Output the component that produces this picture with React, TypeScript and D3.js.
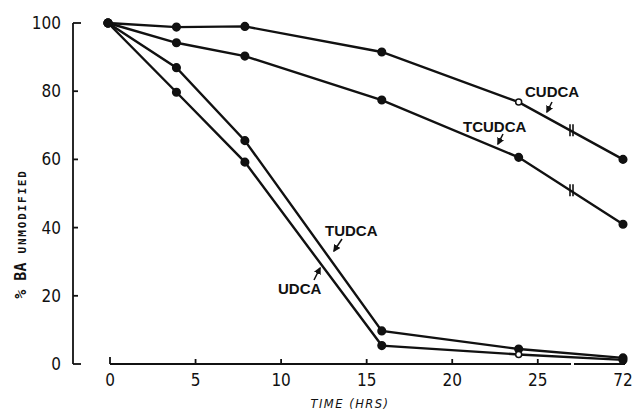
import React from "react";
import { scaleLinear, line } from "d3";

// time points (72 h sits after the axis break)
const hours = [0, 4, 8, 16, 24, 72];
const xTicks = [0, 5, 10, 15, 20, 25, 72];
const yTicks = [0, 20, 40, 60, 80, 100];

// % bile acid unmodified
const cudca = [100, 98.8, 99, 91.5, 76.8, 60];
const tcudca = [100, 94.2, 90.3, 77.4, 60.6, 41];
const tudca = [100, 86.9, 65.5, 9.7, 4.4, 1.8];
const udca = [100, 79.7, 59.2, 5.4, 2.8, 1.2];

// which points are drawn open
const openPoints: Record<string, number[]> = {
  CUDCA: [24],
  UDCA: [24],
};

const series = [
  { name: "CUDCA", values: cudca, brk: true },
  { name: "TCUDCA", values: tcudca, brk: true },
  { name: "TUDCA", values: tudca, brk: false },
  { name: "UDCA", values: udca, brk: false },
];

const BREAK_AT = 27;

export default function App() {
  const width = 633;
  const height = 410;

  // polylinear scale: linear up to the break, compressed after it
  const x = scaleLinear().domain([0, BREAK_AT, 72]).range([108, 570, 623]);
  const y = scaleLinear().domain([0, 100]).range([364, 23]);

  const lineGen = line<[number, number]>()
    .x((d) => x(d[0]))
    .y((d) => y(d[1]));

  const numFont = "'Liberation Sans Narrow', 'DejaVu Sans Condensed', sans-serif";
  const labelFont = "'Liberation Sans', Arial, sans-serif";

  // point along the 24->72 segment at the break
  const breakPoint = (vals: number[]) => {
    const x0 = x(24), x1 = x(72);
    const y0 = y(vals[4]), y1 = y(vals[5]);
    const bx = x(BREAK_AT);
    const t = (bx - x0) / (x1 - x0);
    return [bx, y0 + t * (y1 - y0)];
  };

  // keep the last tick label inside the frame
  const tickLabelX = (t: number) => Math.min(x(t) + 2, width - 10);

  return (
    <svg
      width={width}
      height={height}
      style={{ position: "absolute", left: 0, top: 0, background: "#fff" }}
    >
      <defs>
        <marker id="ah" viewBox="0 0 10 10" refX="8" refY="5" markerWidth="5" markerHeight="5" orient="auto">
          <path d="M0,0 L10,5 L0,10 z" fill="#111" />
        </marker>
      </defs>

      {/* y axis */}
      <g stroke="#111" strokeWidth={1.8} fill="none">
        <line x1={73} x2={73} y1={y(100)} y2={y(0)} />
        {yTicks.map((t) => (
          <line
            key={t}
            x1={73}
            x2={t === 0 || t === 100 ? 81 : 78}
            y1={y(t)}
            y2={y(t)}
          />
        ))}
      </g>
      {yTicks.map((t) => (
        <text
          key={t}
          x={61}
          y={y(t) + 6}
          textAnchor="end"
          fontFamily={numFont}
          fontSize={17}
          fill="#111"
        >
          {t}
        </text>
      ))}

      {/* x axis with break */}
      <g stroke="#111" strokeWidth={1.8} fill="none">
        <line x1={x(0) + 2} x2={x(BREAK_AT) + 1} y1={364} y2={364} />
        <line x1={x(BREAK_AT) + 4} x2={x(72) + 2} y1={364} y2={364} />
        {xTicks.map((t) => (
          <line key={t} x1={x(t) + 2} x2={x(t) + 2} y1={364} y2={t === 0 ? 357 : 359} />
        ))}
      </g>
      {xTicks.map((t) => (
        <text
          key={t}
          x={tickLabelX(t)}
          y={386}
          textAnchor="middle"
          fontFamily={numFont}
          fontSize={17}
          fill="#111"
        >
          {t}
        </text>
      ))}

      {/* axis titles */}
      <text
        transform="translate(26,234) rotate(-90)"
        textAnchor="middle"
        fontFamily="'DejaVu Sans Mono', monospace"
        fill="#111"
        fontWeight="bold"
      >
        <tspan fontSize={15}>% BA </tspan>
        <tspan fontSize={11} letterSpacing={1.8}>UNMODIFIED</tspan>
      </text>
      <text
        x={350}
        y={408}
        textAnchor="middle"
        fontFamily="'DejaVu Sans', sans-serif"
        fontStyle="italic"
        fontSize={11.5}
        letterSpacing={1.5}
        fill="#111"
      >
        TIME (HRS)
      </text>

      {/* lines */}
      {series.map((s) => (
        <path
          key={s.name}
          d={lineGen(hours.map((h, i) => [h, s.values[i]] as [number, number])) || ""}
          fill="none"
          stroke="#111"
          strokeWidth={2.4}
        />
      ))}

      {/* markers */}
      {series.map((s) =>
        hours.map((h, i) => {
          const open = (openPoints[s.name] || []).includes(h);
          return (
            <circle
              key={s.name + h}
              cx={x(h)}
              cy={y(s.values[i])}
              r={open ? 3 : 3.8}
              fill={open ? "#fff" : "#111"}
              stroke="#111"
              strokeWidth={1.5}
            />
          );
        })
      )}

      {/* break marks on upper curves */}
      {series
        .filter((s) => s.brk)
        .map((s) => {
          const [bx, by] = breakPoint(s.values);
          return (
            <g key={s.name + "brk"} stroke="#111" strokeWidth={1.6}>
              <line x1={bx} x2={bx} y1={by - 6} y2={by + 6} />
              <line x1={bx + 3} x2={bx + 3} y1={by - 6} y2={by + 6} />
            </g>
          );
        })}

      {/* curve labels */}
      <g fontFamily={labelFont} fontWeight="bold" fontSize={15} fill="#111">
        <text x={525} y={97}>CUDCA</text>
        <text x={463} y={132}>TCUDCA</text>
        <text x={325} y={236}>TUDCA</text>
        <text x={278} y={294}>UDCA</text>
      </g>
      <g stroke="#111" strokeWidth={1.5} markerEnd="url(#ah)">
        <line x1={552} y1={102} x2={547} y2={112} />
        <line x1={503} y1={134} x2={498} y2={144} />
        <line x1={342} y1={239} x2={334} y2={251} />
        <line x1={314} y1={280} x2={320} y2={268} />
      </g>
    </svg>
  );
}
